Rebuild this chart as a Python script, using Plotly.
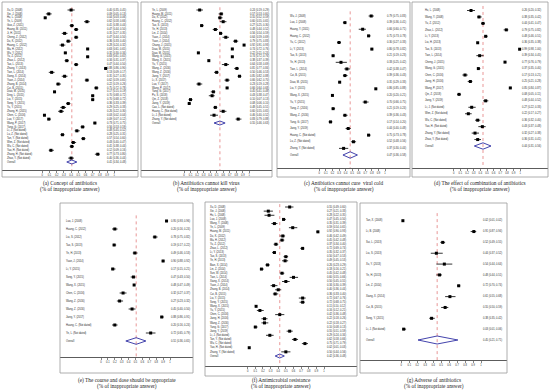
import plotly.graph_objects as go

# ---------------- DATA ----------------
labels_a = ["Xu, D. (2008)", "Xie, J. (2008)", "Hu, L. (2008)", "Ye, L. (2009)", "Guo, Z. (2011)",
            "Huang, M. (2011)", "Ji, H. (2011)", "Cheng, Z. (2012)", "Du, K. (2012)", "Huang, C. (2012)",
            "Ma, H. (2012)", "Wu, Y. (2012)", "Yu, Z. (2012)", "Zhao, L. (2012)", "Tao, L. (2013)",
            "Zhang, Y. (2013)", "Tian, L. (2014)", "Xiong, X. (2014)", "Yuan, J. (2014)", "Zhang, B. (2014)",
            "Cui, B. (2015)", "Diao, M. (2015)", "Ding, L. (2015)", "Liu, Y. (2015)", "Song, Y. (2015)",
            "Yu, Y. (2015)", "Zhang, H. (2015)", "Chen, C. (2016)", "Luo, Y. (2017)", "Wang, P. (2017)",
            "Yang, G. (2017)", "Li, J. (Not dated)", "Lu, Z. (Not dated)", "Tan, Y. (Not dated)",
            "Wen, Z. (Not dated)", "Wu, C. (Not dated)", "Yao, H. (Not dated)", "Zhang, H. (Not dated)",
            "Zhao, Y. (Not dated)"]
est_a = [0.40, 0.09, 0.04, 0.62, 0.41, 0.47, 0.31, 0.47, 0.36, 0.28, 0.63, 0.32, 0.63, 0.34, 0.47,
         0.88, 0.13, 0.31, 0.62, 0.22, 0.75, 0.17, 0.70, 0.70, 0.36, 0.29, 0.26, 0.03, 0.09, 0.73,
         0.56, 0.48, 0.28, 0.57, 0.43, 0.41, 0.12, 0.77, 0.40]
lo_a = [0.35, 0.05, 0.03, 0.58, 0.38, 0.44, 0.27, 0.44, 0.33, 0.24, 0.61, 0.30, 0.61, 0.31, 0.44,
        0.86, 0.09, 0.27, 0.59, 0.19, 0.72, 0.15, 0.68, 0.68, 0.33, 0.25, 0.22, 0.02, 0.07, 0.71,
        0.53, 0.45, 0.25, 0.54, 0.40, 0.38, 0.09, 0.73, 0.36]
hi_a = [0.45, 0.13, 0.06, 0.66, 0.44, 0.50, 0.35, 0.50, 0.40, 0.32, 0.65, 0.34, 0.65, 0.37, 0.50,
        0.90, 0.17, 0.35, 0.65, 0.26, 0.78, 0.19, 0.72, 0.72, 0.39, 0.33, 0.30, 0.04, 0.12, 0.75,
        0.59, 0.52, 0.31, 0.60, 0.47, 0.44, 0.16, 0.80, 0.44]
overall_a = [0.41, 0.34, 0.48]

labels_b = ["Ye, L. (2009)", "Huang, M. (2011)", "Du, K. (2012)", "Huang, C. (2012)", "Tao, S. (2013)",
            "Ye, H. (2013)", "Lin, Z. (2014)", "Yuan, J. (2014)", "Yuan, J. (2014)", "Chang, J. (2015)",
            "Diao, M. (2015)", "Diao, M. (2015)", "Wang, G. (2015)", "Wang, X. (2015)", "Yu, Y. (2015)",
            "Wang, Z. (2016)", "Wang, Z. (2016)", "Jiang, Y. (2017)", "Li, X. (2017)", "Luo, Y. (2017)",
            "Wang, P. (2017)", "Yang, G. (2017)", "Pu, S. (2018)", "Qin, Z. (2018)", "Jiang, Y. (2019)",
            "Cao, L. (Not dated)", "Huang, C. (Not dated)", "Li, J. (Not dated)", "Zhang, Y. (Not dated)"]
est_b = [0.24, 0.57, 0.55, 0.60, 0.27, 0.48, 0.56, 0.64, 0.79, 0.92, 0.74, 0.22, 0.74, 0.38, 0.64,
         0.81, 0.50, 0.85, 0.66, 0.23, 0.66, 0.45, 0.43, 0.10, 0.08, 0.48, 0.60, 0.46, 0.83]
lo_b = [0.19, 0.53, 0.52, 0.55, 0.25, 0.44, 0.54, 0.59, 0.75, 0.91, 0.72, 0.21, 0.72, 0.37, 0.58,
        0.77, 0.46, 0.82, 0.62, 0.19, 0.64, 0.41, 0.38, 0.07, 0.06, 0.45, 0.55, 0.40, 0.79]
hi_b = [0.29, 0.60, 0.59, 0.65, 0.30, 0.52, 0.59, 0.69, 0.83, 0.93, 0.76, 0.24, 0.76, 0.39, 0.69,
        0.84, 0.53, 0.88, 0.70, 0.28, 0.68, 0.48, 0.47, 0.13, 0.10, 0.51, 0.65, 0.52, 0.88]
overall_b = [0.55, 0.46, 0.63]

labels_c = ["Wu, J. (2008)", "Luo, J. (2008)", "Huang, Y. (2011)", "Huang, C. (2012)", "Yu, C. (2012)",
            "Li, Y. (2013)", "Tao, S. (2013)", "Ye, H. (2013)", "Tian, L. (2014)", "Cui, B. (2015)",
            "Diao, M. (2015)", "Liu, Y. (2015)", "Wang, X. (2015)", "Yu, Y. (2015)", "Yang, Z. (2016)",
            "Wang, Z. (2016)", "Yang, G. (2017)", "Jiang, Y. (2019)", "Huang, C. (Not dated)",
            "Lu, Z. (Not dated)", "Zhong, Y. (Not dated)"]
est_c = [0.79, 0.39, 0.66, 0.75, 0.30, 0.80, 0.21, 0.33, 0.42, 0.39, 0.31, 0.86, 0.20, 0.70, 0.21,
         0.39, 0.17, 0.44, 0.75, 0.52, 0.37]
lo_c = [0.75, 0.36, 0.60, 0.73, 0.27, 0.78, 0.19, 0.25, 0.38, 0.36, 0.29, 0.85, 0.20, 0.66, 0.19,
        0.36, 0.14, 0.40, 0.73, 0.48, 0.30]
hi_c = [0.83, 0.41, 0.71, 0.78, 0.33, 0.82, 0.23, 0.42, 0.47, 0.43, 0.33, 0.88, 0.21, 0.75, 0.24,
        0.43, 0.20, 0.48, 0.78, 0.56, 0.44]
overall_c = [0.47, 0.36, 0.58]

labels_d = ["Hu, L. (2008)", "Wang, Y. (2008)", "Yu, Z. (2012)", "Zhao, L. (2012)", "Li, Y. (2013)",
            "Liu, H. (2013)", "Tao, S. (2013)", "Tian, L. (2014)", "Cheng, J. (2015)", "Wang, G. (2015)",
            "Chen, C. (2016)", "Jiang, H. (2016)", "Wang, P. (2017)", "Qin, Z. (2018)", "Jiang, Y. (2019)",
            "Li, J. (Not dated)", "Wen, Z. (Not dated)", "Wu, C. (Not dated)", "Yao, H. (Not dated)",
            "Zhang, Y. (Not dated)", "Zhao, Y. (Not dated)"]
est_d = [0.26, 0.38, 0.44, 0.79, 0.48, 0.36, 0.99, 0.39, 0.77, 0.37, 0.17, 0.25, 0.85, 0.08, 0.48,
         0.27, 0.22, 0.36, 0.43, 0.32, 0.36]
lo_d = [0.20, 0.35, 0.41, 0.75, 0.46, 0.35, 0.98, 0.34, 0.76, 0.35, 0.13, 0.21, 0.84, 0.05, 0.44,
        0.22, 0.17, 0.32, 0.37, 0.27, 0.31]
hi_d = [0.32, 0.42, 0.47, 0.82, 0.51, 0.38, 1.00, 0.45, 0.79, 0.40, 0.21, 0.28, 0.87, 0.11, 0.52,
        0.33, 0.27, 0.40, 0.48, 0.38, 0.41]
overall_d = [0.44, 0.31, 0.56]

labels_e = ["Luo, J. (2008)", "Huang, C. (2012)", "Liu, S. (2012)", "Tao, S. (2013)", "Ye, H. (2013)",
            "Yuan, J. (2014)", "Li, Y. (2015)", "Song, Y. (2015)", "Wang, X. (2015)", "Chen, C. (2016)",
            "Wang, Z. (2016)", "Wang, Z. (2016)", "Jiang, Y. (2017)", "Huang, C. (Not dated)",
            "Ye, L. (Not dated)"]
est_e = [0.95, 0.20, 0.78, 0.19, 0.49, 0.90, 0.17, 0.47, 0.48, 0.32, 0.27, 0.45, 0.88, 0.20, 0.72]
lo_e = [0.93, 0.16, 0.75, 0.17, 0.46, 0.88, 0.15, 0.43, 0.47, 0.27, 0.23, 0.40, 0.86, 0.16, 0.65]
hi_e = [0.96, 0.24, 0.82, 0.22, 0.53, 0.92, 0.21, 0.50, 0.49, 0.37, 0.32, 0.50, 0.91, 0.24, 0.79]
overall_e = [0.51, 0.36, 0.65]

labels_f = ["Xu, D. (2008)", "Xie, J. (2008)", "Hu, L. (2008)", "Luo, J. (2008)", "Wang, Y. (2008)",
            "Ye, L. (2009)", "Huang, M. (2011)", "Du, K. (2012)", "Ma, H. (2012)", "Yu, Z. (2012)",
            "Zhao, L. (2012)", "Li, Y. (2013)", "Tao, S. (2013)", "Ye, H. (2013)", "Bian, X. (2014)",
            "Lin, Z. (2014)", "Sun, W. (2014)", "Tian, L. (2014)", "Xiang, X. (2014)", "Yuan, J. (2014)",
            "Zhang, B. (2014)", "Cui, B. (2015)", "Liu, Y. (2015)", "Song, Y. (2015)", "Wang, X. (2015)",
            "Yu, Y. (2015)", "Chen, C. (2016)", "Jiang, H. (2016)", "Wang, Z. (2016)", "Yang, G. (2017)",
            "Jiang, Y. (2019)", "Li, J. (Not dated)", "Tan, Y. (Not dated)", "Wu, C. (Not dated)",
            "Yao, H. (Not dated)", "Zhang, Y. (Not dated)"]
est_f = [0.55, 0.27, 0.28, 0.47, 0.35, 0.59, 0.92, 0.46, 0.45, 0.37, 0.72, 0.35, 0.50, 0.49, 0.26,
         0.18, 0.45, 0.60, 0.50, 0.34, 0.40, 0.36, 0.72, 0.72, 0.11, 0.16, 0.42, 0.22, 0.22, 0.10,
         0.55, 0.29, 0.62, 0.75, 0.02, 0.50]
lo_f = [0.49, 0.21, 0.22, 0.45, 0.31, 0.54, 0.90, 0.42, 0.42, 0.34, 0.69, 0.32, 0.47, 0.45, 0.23,
        0.16, 0.42, 0.55, 0.45, 0.30, 0.36, 0.33, 0.67, 0.68, 0.10, 0.12, 0.36, 0.18, 0.18, 0.08,
        0.51, 0.24, 0.58, 0.71, 0.01, 0.44]
hi_f = [0.60, 0.33, 0.35, 0.50, 0.39, 0.65, 0.93, 0.49, 0.48, 0.40, 0.74, 0.37, 0.53, 0.53, 0.29,
        0.21, 0.48, 0.66, 0.55, 0.39, 0.44, 0.40, 0.76, 0.75, 0.12, 0.21, 0.48, 0.26, 0.27, 0.13,
        0.59, 0.34, 0.66, 0.79, 0.03, 0.56]
overall_f = [0.42, 0.36, 0.48]

labels_g = ["Tan, X. (2008)", "Li, B. (2008)", "Sui, L. (2013)", "Liu, S. (2013)", "Xu, Y. (2013)",
            "Ye, H. (2013)", "Lin, Z. (2014)", "Xiang, X. (2014)", "Cui, B. (2015)", "Song, Y. (2015)",
            "Li, J. (Not dated)"]
est_g = [0.02, 0.91, 0.52, 0.44, 0.54, 0.48, 0.72, 0.61, 0.55, 0.38, 0.03]
lo_g = [0.01, 0.87, 0.49, 0.37, 0.44, 0.44, 0.70, 0.55, 0.50, 0.35, 0.01]
hi_g = [0.02, 0.94, 0.55, 0.52, 0.64, 0.51, 0.74, 0.68, 0.59, 0.42, 0.06]
overall_g = [0.45, 0.21, 0.71]

captions = {
    "a": "(a) Concept of antibiotics",
    "b": "(b) Antibiotics cannot kill virus",
    "c": "(c) Antibiotics cannot cure  viral cold",
    "d": "(d) The effect of combination of antibiotics",
    "e": "(e) The course and dose should be appropriate",
    "f": "(f) Antimicrobial resistance",
    "g": "(g) Adverse of antibiotics",
}
subcaption = "(% of inappropriate answer)"
tick_vals = [0, 0.1, 0.2, 0.3, 0.4, 0.5, 0.6, 0.7, 0.8, 0.9, 1]
tick_text = ["0", "0.1", "0.2", "0.3", "0.4", "0.5", "0.6", "0.7", "0.8", "0.9", "1"]

# ---------------- LAYOUT GEOMETRY (pixels) ----------------
W, H = 550, 392
geo = {
    "a": dict(box=(2, 138, 2, 177), x0=42.3, x1=114.3, axis=170, r0=10, rN=162, lab=7, txt=107, cap=183, dh=2.0),
    "b": dict(box=(141, 272, 2, 177), x0=184.0, x1=249.3, axis=170, r0=10, rN=123, lab=152, txt=250, cap=183, dh=2.0),
    "c": dict(box=(277, 410, 2, 177), x0=319.3, x1=385.0, axis=168, r0=16, rN=155, lab=290, txt=387, cap=183, dh=3.2),
    "d": dict(box=(412, 548, 2, 177), x0=453.7, x1=520.3, axis=168, r0=10.5, rN=146, lab=425, txt=522, cap=183, dh=3.2),
    "e": dict(box=(60, 193, 203, 373), x0=101.0, x1=170.0, axis=357, r0=221, rN=341, lab=66, txt=171, cap=380.5, dh=3.3),
    "f": dict(box=(205, 357, 202, 376), x0=247.7, x1=324.0, axis=366, r0=207, rN=356, lab=210, txt=327, cap=380.5, dh=2.0),
    "g": dict(box=(360, 507, 203, 373), x0=401.3, x1=481.0, axis=360, r0=220.7, rN=340, lab=366, txt=483, cap=380.5, dh=4.0),
}

panels = {
    "a": (labels_a, est_a, lo_a, hi_a, overall_a),
    "b": (labels_b, est_b, lo_b, hi_b, overall_b),
    "c": (labels_c, est_c, lo_c, hi_c, overall_c),
    "d": (labels_d, est_d, lo_d, hi_d, overall_d),
    "e": (labels_e, est_e, lo_e, hi_e, overall_e),
    "f": (labels_f, est_f, lo_f, hi_f, overall_f),
    "g": (labels_g, est_g, lo_g, hi_g, overall_g),
}

TXT_FONT = dict(family="Liberation Sans, Arial, sans-serif", size=2.6, color="#2a2a2a")
CAP_FONT = dict(family="Liberation Serif, Times New Roman, serif", size=5.3, color="#222222")

fig = go.Figure()
shapes, annotations = [], []
layout_axes = {}

def fmt(e, l, h):
    return f"{e:.2f} ({l:.2f}, {h:.2f})"

for i, key in enumerate(["a", "b", "c", "d", "e", "f", "g"]):
    g = geo[key]
    labels, est, lo, hi, ov = panels[key]
    n = len(labels)
    bl, br, bt, bb = g["box"]
    k = g["x1"] - g["x0"]
    sp = (g["rN"] - g["r0"]) / n
    xr = [(bl - g["x0"]) / k, (br - g["x0"]) / k]
    y_axis_row = (g["axis"] - g["r0"]) / sp
    yr = [y_axis_row, (bt - g["r0"]) / sp]
    lab_x = (g["lab"] - g["x0"]) / k
    txt_x = (g["txt"] - g["x0"]) / k
    sfx = "" if i == 0 else str(i + 1)
    xa, ya = "x" + sfx, "y" + sfx

    rows = list(range(n))
    ov_row = n
    dh = g["dh"] / sp

    # dotted reference line at overall estimate
    fig.add_trace(go.Scatter(x=[ov[0], ov[0]], y=[-0.7, y_axis_row], mode="lines",
                             line=dict(color="#e06a6a", width=0.7, dash="dot"),
                             xaxis=xa, yaxis=ya, hoverinfo="skip", showlegend=False))
    # study estimates with CIs
    fig.add_trace(go.Scatter(
        x=est, y=rows, mode="markers",
        marker=dict(symbol="square", size=3.0, color="black"),
        error_x=dict(type="data", symmetric=False,
                     array=[h - e for h, e in zip(hi, est)],
                     arrayminus=[e - l for e, l in zip(est, lo)],
                     color="black", thickness=0.8, width=0),
        xaxis=xa, yaxis=ya, showlegend=False, cliponaxis=False))
    # overall diamond
    fig.add_trace(go.Scatter(
        x=[ov[1], ov[0], ov[2], ov[0], ov[1]],
        y=[ov_row, ov_row - dh, ov_row, ov_row + dh, ov_row],
        mode="lines", line=dict(color="#2e2ea3", width=0.9),
        xaxis=xa, yaxis=ya, showlegend=False, hoverinfo="skip"))
    # left labels
    fig.add_trace(go.Scatter(
        x=[lab_x] * (n + 1), y=rows + [ov_row], mode="text",
        text=labels + ["Overall"], textposition="middle right", textfont=TXT_FONT,
        xaxis=xa, yaxis=ya, showlegend=False, cliponaxis=False, hoverinfo="skip"))
    # right texts
    fig.add_trace(go.Scatter(
        x=[txt_x] * (n + 1), y=rows + [ov_row], mode="text",
        text=[fmt(e, l, h) for e, l, h in zip(est, lo, hi)] + [fmt(*ov)],
        textposition="middle right", textfont=TXT_FONT,
        xaxis=xa, yaxis=ya, showlegend=False, cliponaxis=False, hoverinfo="skip"))

    layout_axes["xaxis" + sfx] = dict(
        domain=[bl / W, br / W], range=xr, anchor=ya,
        showgrid=False, zeroline=False, showline=True, linecolor="#333333", linewidth=0.8,
        ticks="outside", ticklen=2.2, tickwidth=0.6, tickcolor="#333333",
        tickvals=tick_vals, ticktext=tick_text, tickfont=TXT_FONT, ticklabelstandoff=0)
    layout_axes["yaxis" + sfx] = dict(
        domain=[1 - g["axis"] / H, 1 - bt / H], range=yr, anchor=xa, visible=False)

    shapes.append(dict(type="rect", xref="paper", yref="paper",
                       x0=bl / W, x1=br / W, y0=1 - bb / H, y1=1 - bt / H,
                       line=dict(color="#9a9a9a", width=0.8)))
    cx = (bl + br) / 2 / W
    annotations.append(dict(text=captions[key], x=cx, y=1 - g["cap"] / H, xref="paper", yref="paper",
                            showarrow=False, font=CAP_FONT, xanchor="center", yanchor="middle"))
    annotations.append(dict(text=subcaption, x=cx, y=1 - (g["cap"] + 6) / H, xref="paper", yref="paper",
                            showarrow=False, font=CAP_FONT, xanchor="center", yanchor="middle"))

fig.update_layout(width=W, height=H, margin=dict(l=0, r=0, t=0, b=0),
                  paper_bgcolor="white", plot_bgcolor="rgba(0,0,0,0)",
                  shapes=shapes, annotations=annotations, showlegend=False,
                  hovermode=False, **layout_axes)

fig.write_html("out.html", config={"displayModeBar": False, "staticPlot": True},
               post_script="document.body.style.margin='0px';document.body.style.overflow='hidden';")
